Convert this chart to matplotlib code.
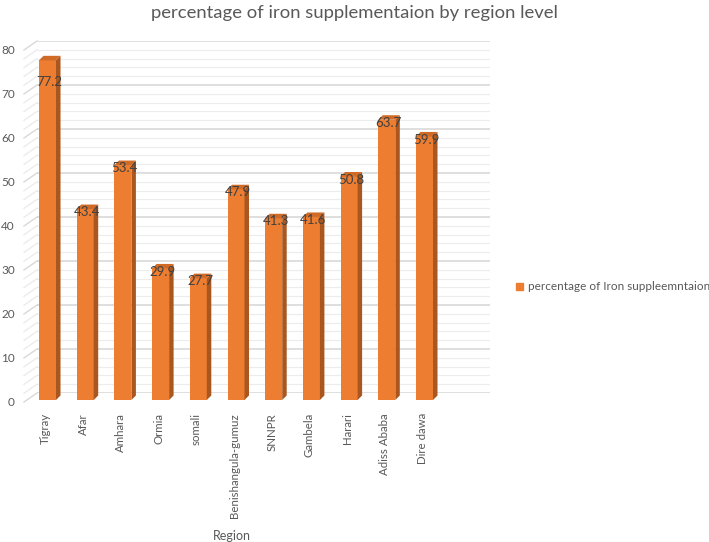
import numpy as np
import matplotlib.pyplot as plt
from matplotlib.patches import Polygon, Patch

regions = ['Tigray', 'Afar', 'Amhara', 'Ormia', 'somali', 'Benishangula-gumuz',
           'SNNPR', 'Gambela', 'Harari', 'Adiss Ababa', 'Dire dawa']
iron_pct = [77.2, 43.4, 53.4, 29.9, 27.7, 47.9, 41.3, 41.6, 50.8, 63.7, 59.9]
y_ticks = [0, 10, 20, 30, 40, 50, 60, 70, 80]
series_name = 'percentage of Iron suppleemntaion'

plt.rcParams['font.family'] = ['Lato', 'DejaVu Sans']

front_c = '#ED7D31'
side_c = '#A9561F'
top_c = '#D06A27'
text_c = '#595959'

W, H = 709, 542
fig = plt.figure(figsize=(W / 100, H / 100), dpi=100)

# back wall of the excel style 3d chart (pixels)
left, right, top, bottom = 37, 490, 41, 393
ax = fig.add_axes([left / W, 1 - bottom / H, (right - left) / W, (bottom - top) / H])
step = 37.7    # px between categories
x0 = 57.5      # px of first category on the back wall
ax.set_xlim((left - x0) / step, (right - x0) / step)
ax.set_ylim(0, 80)
ppx = step
ppy = (bottom - top) / 80.0

ax.set_yticks(y_ticks)
ax.set_yticks(np.arange(0, 81, 2), minor=True)
ax.yaxis.grid(True, which='major', color='#D9D9D9', lw=1.2)
ax.yaxis.grid(True, which='minor', color='#ECECEC', lw=0.8)
ax.set_axisbelow(True)
ax.set_xticks([])
ax.tick_params(which='both', length=0, labelleft=False)
for s in ax.spines.values():
    s.set_visible(False)

# side wall (short diagonal lines on the left)
xmin = ax.get_xlim()[0]
for y in np.arange(0, 81, 2):
    col = '#D9D9D9' if y % 10 == 0 else '#ECECEC'
    ax.plot([xmin - 13 / ppx, xmin], [y - 9 / ppy, y], color=col,
            lw=1.0, clip_on=False, zorder=0)
for y in y_ticks:
    ax.text(xmin - 22 / ppx, y - 9.5 / ppy, str(y), ha='right', va='center',
            fontsize=8.5, color=text_c, clip_on=False)

# bars: front face + right side + top
x = np.arange(len(regions))
fx = x - 10 / ppx
fy0 = -7 / ppy
hw = 8.5 / ppx
dx, dy = 4.5 / ppx, 4.5 / ppy
vals = np.array(iron_pct)
ax.bar(fx, vals, bottom=fy0, width=2 * hw, color=front_c, clip_on=False,
       zorder=3, label=series_name)
for xi, v in zip(fx, vals):
    fy1 = v + fy0
    side = Polygon([(xi + hw, fy0), (xi + hw, fy1), (xi + hw + dx, fy1 + dy),
                    (xi + hw + dx, fy0 + dy)], closed=True, fc=side_c, ec='none',
                   clip_on=False, zorder=3)
    topf = Polygon([(xi - hw, fy1), (xi + hw, fy1), (xi + hw + dx, fy1 + dy),
                    (xi - hw + dx, fy1 + dy)], closed=True, fc=top_c, ec='none',
                   clip_on=False, zorder=3)
    ax.add_patch(side)
    ax.add_patch(topf)

# data labels
for xi, v in zip(x, iron_pct):
    ax.text(xi - 8 / ppx, min(v, 73) - 2.3, f'{v}', ha='center', va='center',
            fontsize=9.5, color='#404040', zorder=5, clip_on=False)

# category labels
for xi, name in zip(x, regions):
    ax.text(xi - 12 / ppx, -20 / ppy, name, rotation=90, ha='center', va='top',
            fontsize=8.3, color=text_c, clip_on=False)

fig.text(232 / W, 1 - 536 / H, 'Region', ha='center', va='center',
         fontsize=9, color=text_c)
fig.text(354 / W, 1 - 13 / H, 'percentage of iron supplementaion by region level',
         ha='center', va='center', fontsize=13.3, color=text_c)

ax.legend(handles=[Patch(color=front_c, label=series_name)], loc='center left',
          bbox_to_anchor=(516 / W, 1 - 287 / H), bbox_transform=fig.transFigure,
          frameon=False, handlelength=0.6, handleheight=0.6, handletextpad=0.4,
          borderaxespad=0, borderpad=0, prop={'size': 8.5},
          labelcolor=text_c)

fig.savefig('out.png', dpi=100)
